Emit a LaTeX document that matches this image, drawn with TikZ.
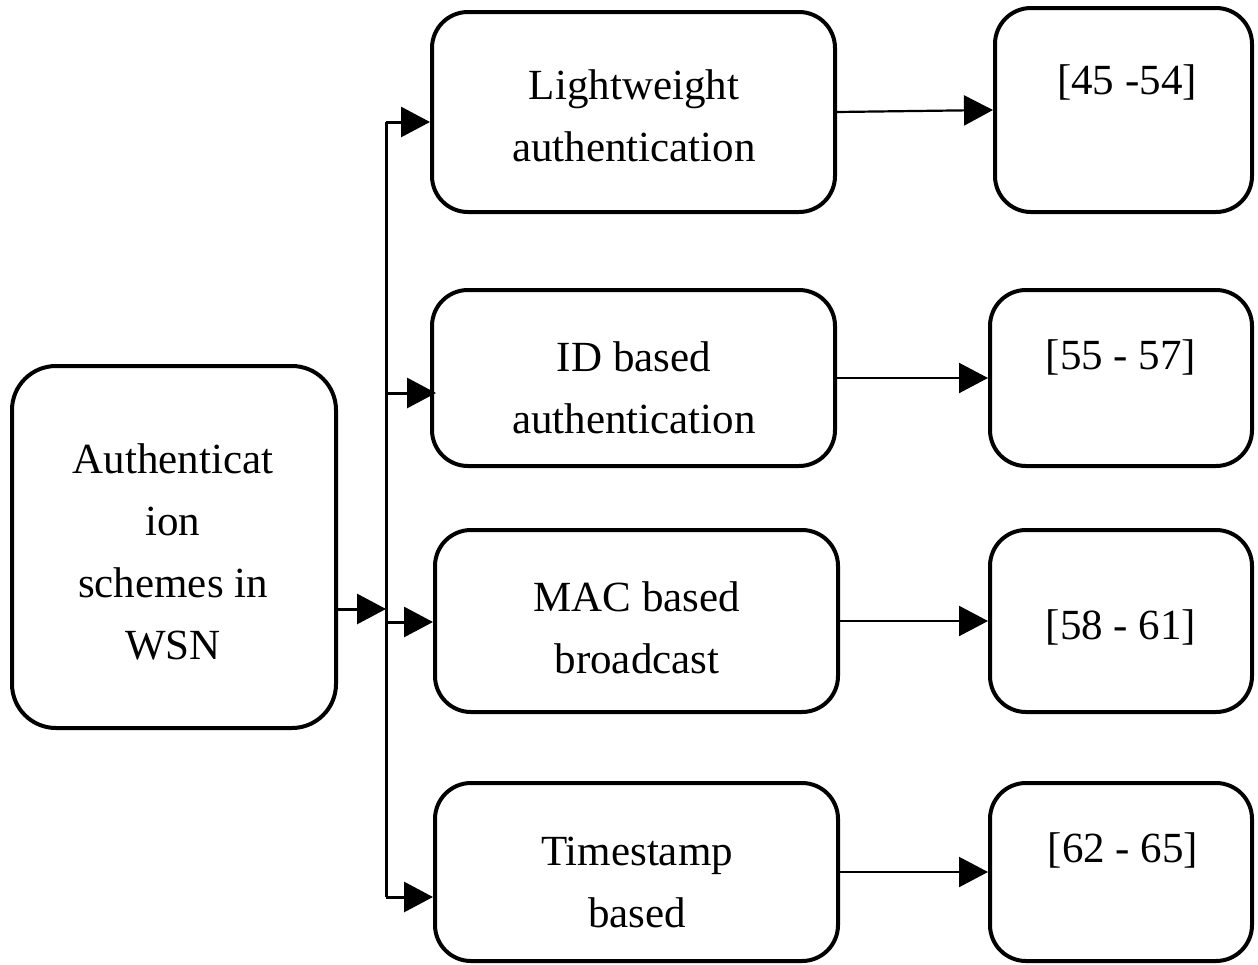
\documentclass[tikz,border=0pt]{standalone}
\usepackage{fontspec}
\setmainfont{Liberation Serif}
\usetikzlibrary{arrows.meta}
\begin{document}
\begin{tikzpicture}[x=1pt,y=-1pt,
  box/.style={draw, line width=4pt, rounded corners=36pt, inner sep=0pt},
  lbl/.style={align=center, font=\fontsize{43}{62}\selectfont, inner sep=0pt},
  feed/.style={line width=3pt, -{Triangle[length=29pt,width=30pt]}},
  link/.style={line width=2.2pt, -{Triangle[length=29pt,width=30pt]}}]
\useasboundingbox (0,0) rectangle (1258,964);

% main category box
\node[box, rounded corners=44pt, minimum width=324pt, minimum height=362pt] (L) at (174,547) {};
\node[lbl] (Lt) at (173,552) {Authenticat\\ion\\schemes in\\WSN};

% scheme boxes
\node[box, minimum width=403pt, minimum height=200pt] (M1) at (633.5,112) {};
\node[box, minimum width=403pt, minimum height=176pt] (M2) at (633.5,378) {};
\node[box, minimum width=403pt, minimum height=182pt] (M3) at (636.5,621) {};
\node[box, minimum width=403pt, minimum height=178pt] (M4) at (636.5,872) {};
\node[lbl] (M1t) at (634,116) {Lightweight\\authentication};
\node[lbl] (M2t) at (634,388) {ID based\\authentication};
\node[lbl] (M3t) at (637,628) {MAC based\\broadcast};
\node[lbl] (M4t) at (637,882) {Timestamp\\based};

% reference boxes
\node[box, minimum width=257pt, minimum height=204pt] (R1) at (1123.5,110) {};
\node[box, minimum width=262pt, minimum height=176pt] (R2) at (1121,378) {};
\node[box, minimum width=262pt, minimum height=182pt] (R3) at (1121,621) {};
\node[box, minimum width=262pt, minimum height=178pt] (R4) at (1121,872) {};
\node[lbl] (R1t) at (1127,82) {[45 -54]};
\node[lbl] (R2t) at (1121,357) {[55 - 57]};
\node[lbl] (R3t) at (1121,627) {[58 - 61]};
\node[lbl] (R4t) at (1123,850) {[62 - 65]};

% branching trunk
\coordinate (t1) at (386,122);
\coordinate (t2) at (386,393);
\coordinate (tj) at (386,609);
\coordinate (t3) at (386,622);
\coordinate (t4) at (386,897);
\draw[line width=3pt] (t1) -- (t4);
\draw[feed] (L.east |- tj) -- (tj);
\draw[feed] (t1) -- (t1 -| M1.west);
\draw[feed] (t2) -- ([xshift=6pt]t2 -| M2.west);
\draw[feed] (t3) -- (t3 -| M3.west);
\draw[feed] (t4) -- (t4 -| M4.west);

% links to references
\draw[link] (M1.east) -- (R1.west);
\draw[link] (M2.east) -- (R2.west);
\draw[link] (M3.east) -- (R3.west);
\draw[link] (M4.east) -- (R4.west);
\end{tikzpicture}
\end{document}
